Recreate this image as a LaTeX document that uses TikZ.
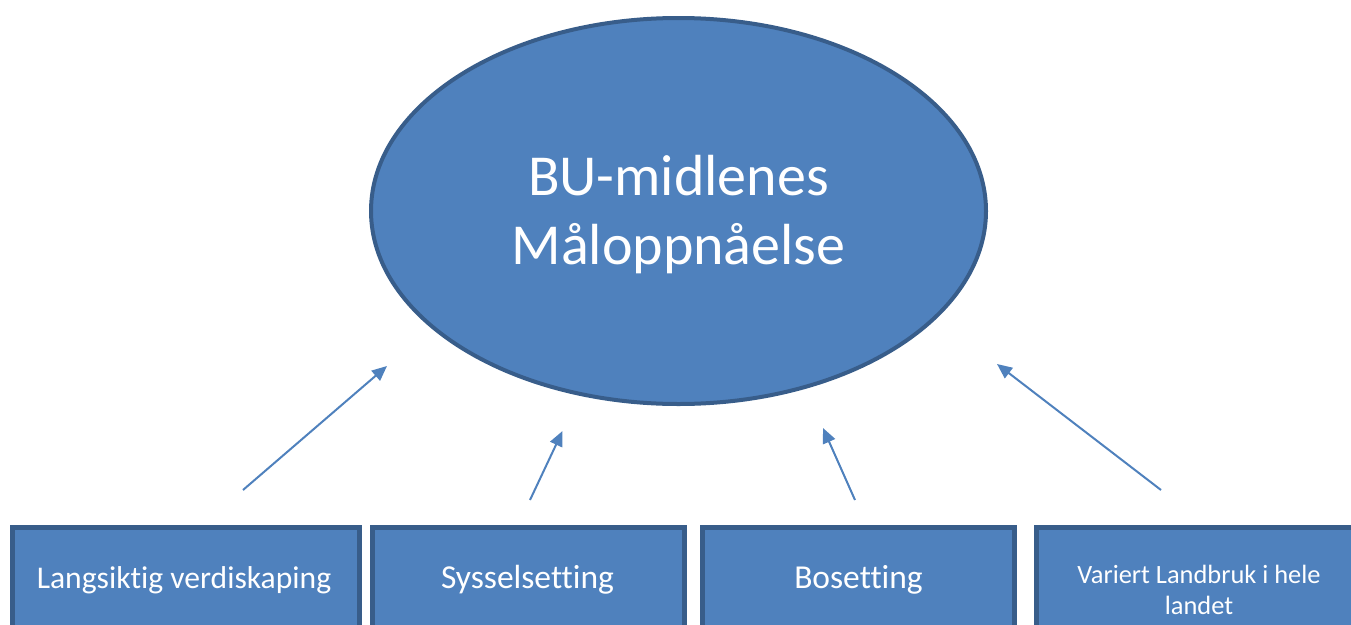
\documentclass[tikz,border=0pt]{standalone}
\usepackage{fontspec}
\setmainfont[Ligatures=NoCommon]{Carlito}
\usetikzlibrary{arrows.meta,shapes.geometric}
\definecolor{fillblue}{RGB}{79,129,189}
\definecolor{edgeblue}{RGB}{56,93,138}
\tikzset{
  goalbox/.style={draw=edgeblue, line width=5pt, fill=fillblue, rectangle, inner sep=0pt},
  bigell/.style={draw=edgeblue, line width=4pt, fill=fillblue, ellipse, inner sep=0pt,
    minimum width=615pt, minimum height=386pt},
  elltext/.style={text=white, anchor=base, inner sep=0pt, font=\fontsize{58pt}{69pt}\selectfont},
  boxtext/.style={text=white, anchor=base, inner sep=0pt, font=\fontsize{31.6pt}{38pt}\selectfont},
  boxtextb/.style={text=white, anchor=base, inner sep=0pt, font=\fontsize{33.5pt}{40pt}\selectfont},
  smalltext/.style={text=white, anchor=base, inner sep=0pt, font=\fontsize{26.4pt}{31pt}\selectfont},
  link/.style={draw=fillblue, line width=2pt, -{Triangle[length=15pt,width=13pt]}}
}
\begin{document}
\begin{tikzpicture}[x=1pt,y=-1pt]
\useasboundingbox (0,0) rectangle (1351,624);
\clip (0,0) rectangle (1351,624);
% central ellipse
\node[bigell] (goal) at (678.5,211) {};
\node[elltext] (goal1) at (678.5,195) {BU-midlenes};
\node[elltext] (goal2) at (678.5,264) {Måloppnåelse};
% boxes
\node[goalbox, minimum width=347pt, minimum height=112pt] (b1) at (186,583.5) {};
\node[goalbox, minimum width=312pt, minimum height=112pt] (b2) at (528.5,583.5) {};
\node[goalbox, minimum width=312pt, minimum height=112pt] (b3) at (858.5,583.5) {};
\node[goalbox, minimum width=318pt, minimum height=112pt] (b4) at (1195.5,583.5) {};
\node[boxtext] (t1) at (184,588) {Langsiktig verdiskaping};
\node[boxtextb] (t2) at (527.5,588) {Sysselsetting};
\node[boxtextb] (t3) at (858.5,588.5) {Bosetting};
\node[smalltext] (t4a) at (1199,583) {Variert Landbruk i hele};
\node[smalltext] (t4b) at (1199,614) {landet};
% arrows
\coordinate (a1s) at (243,490);
\coordinate (a1e) at (387,366);
\coordinate (a2s) at (530,500);
\coordinate (a2e) at (562.5,431);
\coordinate (a3s) at (855,500);
\coordinate (a3e) at (823,428);
\coordinate (a4s) at (1161,490);
\coordinate (a4e) at (997,364);
\draw[link] (a1s) -- (a1e);
\draw[link] (a2s) -- (a2e);
\draw[link] (a3s) -- (a3e);
\draw[link] (a4s) -- (a4e);
\end{tikzpicture}
\end{document}
